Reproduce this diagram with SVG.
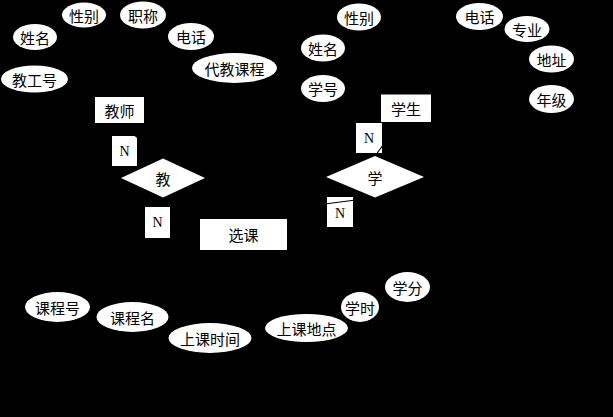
<svg xmlns="http://www.w3.org/2000/svg" width="613" height="417" viewBox="0 0 613 417">
<style>
.bg{fill:#000}
.attr ellipse,.ent rect,.rel polygon,.lbl rect{fill:#fff;stroke:none}
.t{font-family:"Noto Sans CJK SC","Noto Sans",sans-serif;font-size:15px;fill:#000;text-anchor:middle;dominant-baseline:central}
.n{font-family:"Liberation Serif",serif;font-size:14px;fill:#000;text-anchor:middle;dominant-baseline:central}
.conn line{stroke:#000;stroke-width:1.2;fill:none}
</style>
<rect class="bg" x="0" y="0" width="613" height="417"/>
<g id="labels" class="lbl">
<g id="n1"><rect x="112" y="136" width="25" height="30"/><text class="n" x="124.5" y="151">N</text></g>
<g id="n2"><rect x="145" y="207" width="25" height="31"/><text class="n" x="157.5" y="222.5">N</text></g>
<g id="n3"><rect x="356" y="123" width="26" height="30"/><text class="n" x="369" y="138">N</text></g>
<g id="n4"><rect x="327" y="197" width="26" height="30"/><text class="n" x="340" y="213">N</text></g>
</g>
<g id="connectors" class="conn">
<line x1="57" y1="40" x2="95" y2="100"/>
<line x1="90" y1="26" x2="105" y2="97"/>
<line x1="140" y1="28" x2="120" y2="97"/>
<line x1="185" y1="49" x2="140" y2="97"/>
<line x1="200" y1="78" x2="144" y2="105"/>
<line x1="68" y1="82" x2="95" y2="108"/>
<line x1="120" y1="123" x2="162" y2="158"/>
<line x1="162" y1="197" x2="215" y2="219"/>
<line x1="400" y1="122" x2="375" y2="156"/>
<line x1="375" y1="197.5" x2="290" y2="208.5"/>
<line x1="345" y1="96" x2="410" y2="93"/>
<line x1="345" y1="50" x2="381" y2="100"/>
<line x1="365" y1="31" x2="395" y2="93"/>
<line x1="470" y1="30" x2="425" y2="93"/>
<line x1="505" y1="35" x2="431" y2="97"/>
<line x1="529" y1="62" x2="431" y2="105"/>
<line x1="529" y1="100" x2="431" y2="115"/>
<line x1="243" y1="250" x2="60" y2="292"/>
<line x1="243" y1="250" x2="135" y2="302"/>
<line x1="243" y1="250" x2="212" y2="323"/>
<line x1="243" y1="250" x2="300" y2="314"/>
<line x1="243" y1="250" x2="345" y2="295"/>
<line x1="243" y1="250" x2="390" y2="279"/>
</g>
<g id="teacher" class="ent"><rect x="95" y="97" width="49" height="26"/><text class="t" x="119.5" y="110">教师</text></g>
<g id="student" class="ent"><rect x="381" y="94.5" width="50" height="27.5"/><text class="t" x="406" y="108">学生</text></g>
<g id="course" class="ent"><rect x="200" y="219" width="87" height="31"/><text class="t" x="243.5" y="234.5">选课</text></g>
<g id="teach" class="rel"><polygon points="121,178 163,158.5 205,178 163,197.5"/><text class="t" x="163" y="178">教</text></g>
<g id="learn" class="rel"><polygon points="326,177 375,156 424,177 375,197.5"/><text class="t" x="375" y="177">学</text></g>
<g id="t-name" class="attr"><ellipse cx="35" cy="37" rx="22" ry="13"/><text class="t" x="35" y="37">姓名</text></g>
<g id="t-sex" class="attr"><ellipse cx="84" cy="15" rx="22" ry="12.5"/><text class="t" x="84" y="15">性别</text></g>
<g id="t-title" class="attr"><ellipse cx="143" cy="15" rx="23" ry="13.5"/><text class="t" x="143" y="15">职称</text></g>
<g id="t-phone" class="attr"><ellipse cx="191" cy="36.5" rx="23" ry="13.5"/><text class="t" x="191" y="36.5">电话</text></g>
<g id="t-course" class="attr"><ellipse cx="234.5" cy="68" rx="42.5" ry="15"/><text class="t" x="234.5" y="68">代教课程</text></g>
<g id="t-id" class="attr"><ellipse cx="34.5" cy="79" rx="33.5" ry="13.5"/><text class="t" x="34.5" y="79">教工号</text></g>
<g id="s-sex" class="attr"><ellipse cx="359" cy="17" rx="22" ry="13.5"/><text class="t" x="359" y="17">性别</text></g>
<g id="s-name" class="attr"><ellipse cx="323" cy="48" rx="22" ry="13.5"/><text class="t" x="323" y="48">姓名</text></g>
<g id="s-id" class="attr"><ellipse cx="323" cy="88.5" rx="22" ry="13.5"/><text class="t" x="323" y="88.5">学号</text></g>
<g id="s-phone" class="attr"><ellipse cx="479.5" cy="16.5" rx="23.5" ry="13.5"/><text class="t" x="479.5" y="16.5">电话</text></g>
<g id="s-major" class="attr"><ellipse cx="527" cy="29" rx="22.5" ry="13"/><text class="t" x="527" y="29">专业</text></g>
<g id="s-addr" class="attr"><ellipse cx="551.5" cy="59" rx="22.5" ry="13.5"/><text class="t" x="551.5" y="59">地址</text></g>
<g id="s-grade" class="attr"><ellipse cx="551.5" cy="99" rx="22.5" ry="14"/><text class="t" x="551.5" y="99">年级</text></g>
<g id="c-id" class="attr"><ellipse cx="57.5" cy="307" rx="32.5" ry="15"/><text class="t" x="57.5" y="307">课程号</text></g>
<g id="c-name" class="attr"><ellipse cx="132.5" cy="317" rx="36" ry="15"/><text class="t" x="132.5" y="317">课程名</text></g>
<g id="c-time" class="attr"><ellipse cx="210" cy="338" rx="41.5" ry="15"/><text class="t" x="210" y="338">上课时间</text></g>
<g id="c-place" class="attr"><ellipse cx="306.5" cy="328" rx="41.5" ry="14"/><text class="t" x="306.5" y="328">上课地点</text></g>
<g id="c-hours" class="attr"><ellipse cx="360" cy="307" rx="19" ry="15"/><text class="t" x="360" y="307">学时</text></g>
<g id="c-credit" class="attr"><ellipse cx="407.5" cy="287" rx="22.5" ry="15"/><text class="t" x="407.5" y="287">学分</text></g>
</svg>
